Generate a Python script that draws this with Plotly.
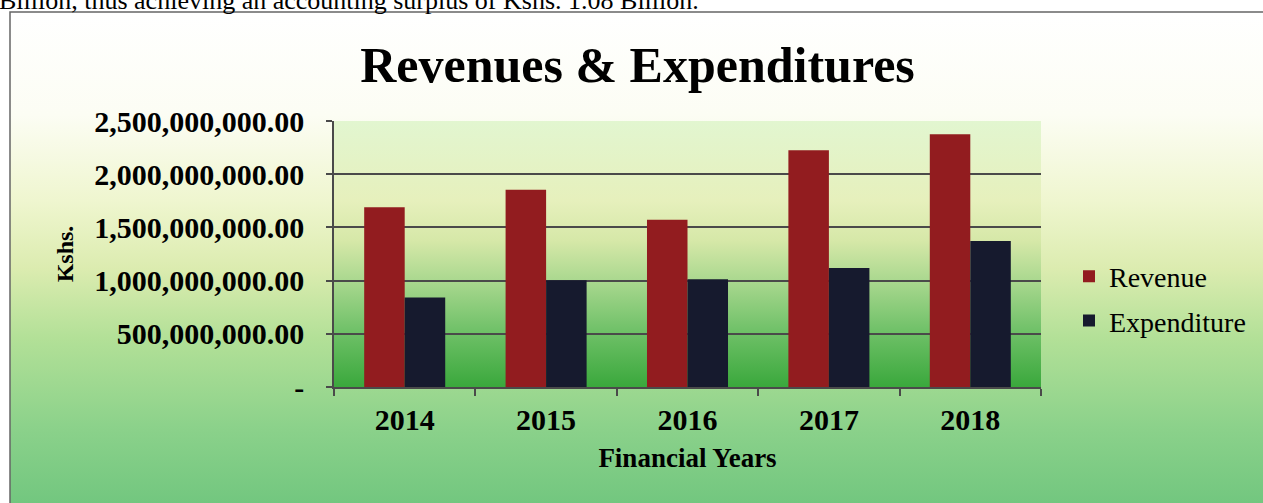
import base64
import plotly.graph_objects as go

# ---------------- data ----------------
years = ["2014", "2015", "2016", "2017", "2018"]
revenue = [1.69e9, 1.855e9, 1.573e9, 2.225e9, 2.375e9]
expenditure = [0.84e9, 1.003e9, 1.012e9, 1.118e9, 1.372e9]
y_tickvals = [0, 5e8, 1e9, 1.5e9, 2e9, 2.5e9]
y_ticktext = ["-", "500,000,000.00", "1,000,000,000.00", "1,500,000,000.00",
              "2,000,000,000.00", "2,500,000,000.00"]

# ---------------- geometry helpers ----------------
W, H = 1263, 503
L, R, T, B = 334, 222, 121, 116
PW, PH = W - L - R, H - T - B


def px2x(px):
    return (px - L) / PW


def px2y(py):
    return (H - B - py) / PH


def grad_svg(stops):
    st = "".join(f'<stop offset="{o}" stop-color="{c}"/>' for o, c in stops)
    svg = ('<svg xmlns="http://www.w3.org/2000/svg" width="100" height="100" '
           'viewBox="0 0 100 100" preserveAspectRatio="none">'
           '<defs><linearGradient id="g" x1="0" y1="0" x2="0" y2="1">'
           f'{st}</linearGradient></defs>'
           '<rect x="0" y="0" width="100" height="100" fill="url(#g)"/></svg>')
    return "data:image/svg+xml;base64," + base64.b64encode(svg.encode()).decode()


chart_bg = grad_svg([(0, "#ffffff"), (0.2, "#fcfdf4"), (0.37, "#eff6cf"),
                     (0.5, "#dcecb0"), (0.64, "#b2e097"), (0.82, "#8ad18a"),
                     (1.0, "#6cc47c")])
plot_bg = grad_svg([(0, "#e2f6d0"), (0.3, "#e6f0bc"), (0.45, "#d6e8a8"),
                    (0.6, "#aad88f"), (0.78, "#72c26a"), (1.0, "#3aa83c")])

SERIF = "Liberation Serif"
LINE = "#4a4a4a"

fig = go.Figure()
fig.add_trace(go.Bar(x=years, y=revenue, name="Revenue", legendgroup="r",
                     marker=dict(color="#921c1f", line=dict(width=0))))
fig.add_trace(go.Bar(x=years, y=expenditure, name="Expenditure", legendgroup="e",
                     marker=dict(color="#161a2e", line=dict(width=0))))

fig.update_layout(
    width=W, height=H,
    margin=dict(l=L, r=R, t=T, b=B),
    paper_bgcolor="white",
    plot_bgcolor="rgba(0,0,0,0)",
    barmode="group",
    bargap=0.427,
    bargroupgap=0,
    title=dict(text="<b>Revenues & Expenditures</b>",
               font=dict(family=SERIF, size=50, color="black"),
               xref="container", x=637.5 / W, xanchor="center",
               yref="container", y=1 - 64 / H, yanchor="middle"),
    legend=dict(x=px2x(1069), xanchor="left", y=px2y(298.5), yanchor="middle",
                font=dict(family=SERIF, size=28, color="black"),
                bgcolor="rgba(0,0,0,0)", tracegroupgap=5),
    xaxis=dict(type="category", ticks="outside", tickson="boundaries", ticklen=7,
               tickcolor=LINE, tickwidth=1.5, showline=True, linecolor=LINE,
               linewidth=1.5, showgrid=False,
               tickfont=dict(family=SERIF, size=30, color="black", weight="bold"),
               ticklabelstandoff=5,
               title=dict(text="Financial Years", standoff=13,
                          font=dict(family=SERIF, size=27, color="black", weight="bold"))),
    yaxis=dict(range=[0, 2.5e9], tickmode="array", tickvals=y_tickvals, ticktext=y_ticktext,
               ticks="outside", ticklen=6, tickcolor=LINE, tickwidth=1.5,
               showline=True, linecolor=LINE, linewidth=1.5,
               showgrid=True, gridcolor=LINE, gridwidth=1.5, zeroline=False,
               tickfont=dict(family=SERIF, size=30, color="black", weight="bold"),
               ticklabelstandoff=16,
               title=dict(text="Kshs.", standoff=14,
                          font=dict(family=SERIF, size=24, color="black", weight="bold"))),
    images=[
        dict(source=chart_bg, xref="paper", yref="paper", x=px2x(10), y=px2y(12),
             sizex=(W + 20 - 10) / PW, sizey=(H + 20 - 12) / PH,
             xanchor="left", yanchor="top", sizing="stretch", layer="below"),
        dict(source=plot_bg, xref="paper", yref="paper", x=0, y=1, sizex=1, sizey=1,
             xanchor="left", yanchor="top", sizing="stretch", layer="below"),
    ],
    shapes=[
        dict(type="rect", xref="paper", yref="paper", x0=px2x(10), y0=px2y(12),
             x1=px2x(W + 20), y1=px2y(H + 20), line=dict(color="#666", width=1.5),
             fillcolor="rgba(0,0,0,0)", layer="above"),
    ],
    annotations=[
        dict(text="Billion, thus achieving an accounting surplus of Kshs. 1.08 Billion.",
             xref="paper", yref="paper", x=px2x(-3), xanchor="left",
             y=px2y(17), yanchor="bottom", showarrow=False,
             font=dict(family=SERIF, size=26, color="black")),
    ],
)

fig.write_html("out.html", config={"displayModeBar": False},
               post_script="document.body.style.margin='0px';document.body.style.padding='0px';")
